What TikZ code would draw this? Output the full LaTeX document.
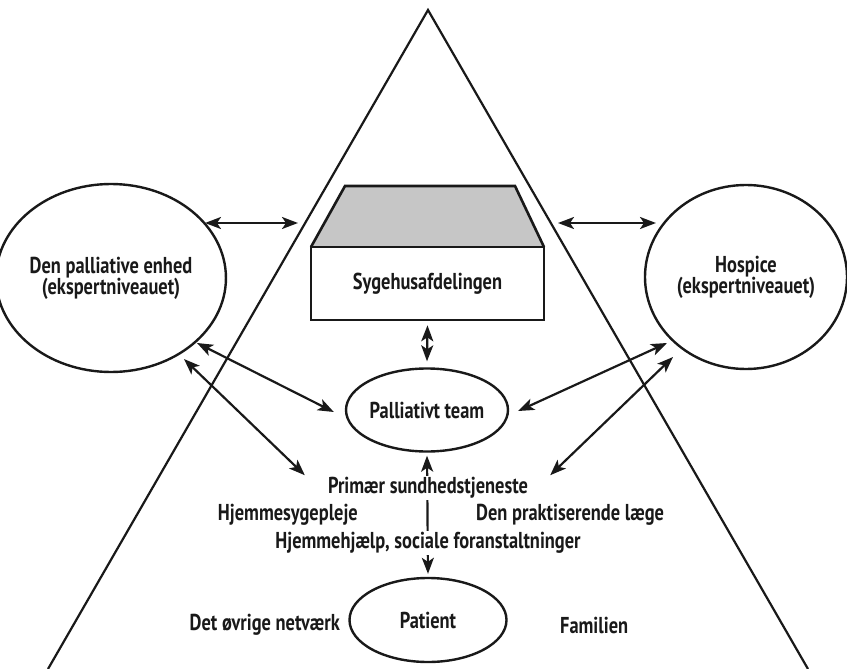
\documentclass[tikz,border=0pt]{standalone}
\usepackage{fontspec}
\setmainfont{PT Sans}[FakeStretch=0.8]
\usetikzlibrary{shapes.geometric,arrows.meta,calc}
\begin{document}
\begin{tikzpicture}[x=1pt,y=-1pt,
  every node/.style={font=\bfseries\fontsize{23}{25}\selectfont, text=black!90},
  oval/.style={ellipse, draw=black!90, line width=2.4pt, inner sep=0pt, align=center},
  lbl/.style={inner sep=1pt, align=center},
  dbl/.style={draw=black!90, line width=2.2pt, {Stealth[length=16pt,width=12pt,inset=4pt]}-{Stealth[length=16pt,width=12pt,inset=4pt]}},
  edge/.style={draw=black!90, line width=2.2pt, line join=miter}
]
\useasboundingbox (0,0) rectangle (847,669);
% triangle
\coordinate (apex) at (428,10);
\coordinate (bl) at (48,669);
\coordinate (br) at (808,669);
\draw[edge] (bl) -- (apex) -- (br);
% hospital ward
\fill[gray!45!white] (311,247) -- (345,186) -- (515,186) -- (544,247) -- cycle;
\draw[edge, line width=2.6pt] (311,247) -- (345,186) -- (515,186) -- (544,247);
\node[draw=black!90, line width=2.6pt, fill=white, minimum width=233pt, minimum height=73pt, inner sep=0pt] (box) at (427.5,283.5) {Sygehusafdelingen};
% ellipses
\node[oval, minimum width=208pt, minimum height=188pt] (palE) at (111,278) {Den palliative enhed\\[-4pt](ekspertniveauet)};
\node[oval, minimum width=202pt, minimum height=184pt] (hosE) at (746,277) {Hospice\\[-4pt](ekspertniveauet)};
\node[oval, minimum width=156pt, minimum height=83pt] (team) at (427,410) {Palliativt team};
\node[oval, minimum width=157pt, minimum height=84pt] (pat) at (428,620) {Patient};
% central vertical arrow (drawn first, texts cover it)
\draw[dbl] ($(team.south)+(0,3)$) -- ($(pat.north)+(0,-3)$);
% texts
\node[lbl, fill=white] (prim) at (428,488) {Primær sundhedstjeneste};
\node[lbl, fill=white] (hjh) at (428,543) {Hjemmehjælp, sociale foranstaltninger};
\node[lbl, anchor=east] (hsyg) at (359,515) {Hjemmesygepleje};
\node[lbl, anchor=west] (praks) at (475,515) {Den praktiserende læge};
\node[lbl, anchor=east] (oevr) at (341,625) {Det øvrige netværk};
\node[lbl, anchor=west] (fam) at (559,625) {Familien};
% free arrow ends
\coordinate (tl) at (298,223);
\coordinate (tr) at (558,223);
% arrows
\draw[dbl] ($(palE.center)+(94,-55)$) -- (tl);
\draw[dbl] (tr) -- ($(hosE.center)+(-90,-54)$);
\draw[dbl] ($(box.south)+(0,4)$) -- ($(team.north)+(0,-6)$);
\draw[dbl] ($(palE.center)+(86,65)$) -- ($(team.west)+(-11,2)$);
\draw[dbl] ($(palE.center)+(73,81)$) -- ($(prim.north west)+(-22,-1)$);
\draw[dbl] ($(team.east)+(9,1)$) -- ($(hosE.center)+(-79,66)$);
\draw[dbl] ($(prim.north east)+(21,-1)$) -- ($(hosE.center)+(-73,80)$);
\end{tikzpicture}
\end{document}
